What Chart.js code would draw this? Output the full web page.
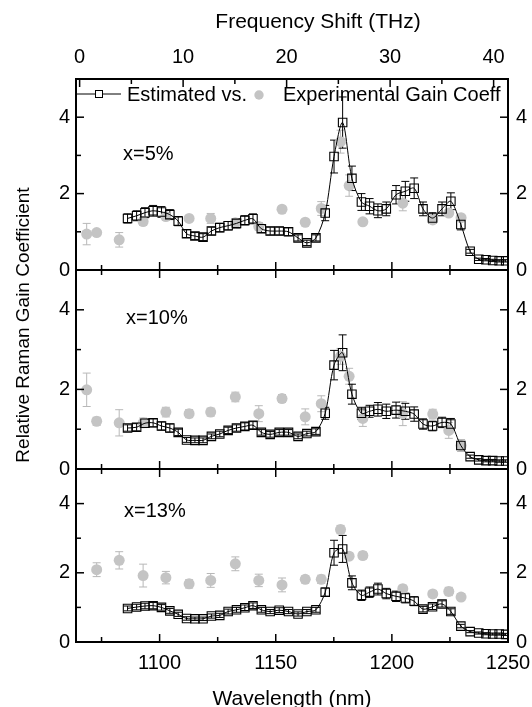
<!DOCTYPE html>
<html>
<head>
<meta charset="utf-8">
<script src="https://cdn.jsdelivr.net/npm/chart.js@4.4.0/dist/chart.umd.min.js"></script>
<style>
  html, body { margin: 0; padding: 0; background: #fff; }
  #wrap { position: relative; width: 532px; height: 707px; }
</style>
</head>
<body>
<div id="wrap"><canvas id="ramanChart" width="532" height="707"></canvas></div>
<script>
// estimated gain coefficient, sampled at these wavelengths (nm)
const estWavelength = [1086.2, 1090.1, 1093.7, 1097.2, 1100.8, 1104.4, 1108.0, 1111.6, 1115.2, 1118.7,
  1122.3, 1125.9, 1129.5, 1133.1, 1136.7, 1140.2, 1143.8, 1147.6, 1151.5, 1155.5,
  1159.6, 1163.4, 1167.3, 1171.3, 1175.1, 1178.8, 1182.8, 1186.9, 1190.4, 1194.0,
  1197.6, 1201.8, 1205.8, 1209.6, 1213.4, 1217.5, 1221.6, 1225.4, 1229.7, 1233.7,
  1237.4, 1240.5, 1243.4, 1246.2, 1249.0];

const est5 = [1.35, 1.42, 1.50, 1.55, 1.52, 1.45, 1.28, 0.95, 0.89, 0.86,
  1.02, 1.11, 1.16, 1.22, 1.30, 1.34, 1.08, 1.02, 1.02, 1.00,
  0.84, 0.71, 0.84, 1.49, 2.97, 3.86, 2.40, 1.78, 1.67, 1.55,
  1.60, 1.97, 2.06, 2.14, 1.60, 1.36, 1.60, 1.80, 1.19, 0.49,
  0.28, 0.27, 0.25, 0.24, 0.24];
const est5Err = [0.12, 0.13, 0.13, 0.14, 0.14, 0.13, 0.12, 0.10, 0.09, 0.09,
  0.10, 0.11, 0.11, 0.12, 0.12, 0.13, 0.10, 0.10, 0.10, 0.10,
  0.08, 0.07, 0.08, 0.20, 0.43, 0.67, 0.32, 0.22, 0.20, 0.18,
  0.18, 0.24, 0.26, 0.27, 0.18, 0.14, 0.18, 0.22, 0.14, 0.05,
  0.03, 0.03, 0.03, 0.03, 0.03];

const est10 = [1.03, 1.05, 1.15, 1.16, 1.08, 1.03, 0.92, 0.73, 0.72, 0.72,
  0.82, 0.88, 0.97, 1.03, 1.07, 1.10, 0.92, 0.87, 0.92, 0.92,
  0.82, 0.89, 0.94, 1.40, 2.61, 2.92, 1.88, 1.40, 1.45, 1.50,
  1.45, 1.48, 1.45, 1.38, 1.13, 1.08, 1.17, 1.13, 0.59, 0.31,
  0.23, 0.21, 0.21, 0.20, 0.20];
const est10Err = [0.08, 0.09, 0.10, 0.10, 0.10, 0.10, 0.08, 0.06, 0.06, 0.06,
  0.06, 0.07, 0.08, 0.08, 0.09, 0.09, 0.07, 0.07, 0.07, 0.07,
  0.06, 0.06, 0.07, 0.15, 0.37, 0.45, 0.25, 0.15, 0.15, 0.17,
  0.18, 0.20, 0.20, 0.18, 0.13, 0.12, 0.13, 0.14, 0.10, 0.04,
  0.03, 0.03, 0.03, 0.03, 0.03];

const est13 = [0.97, 1.01, 1.04, 1.05, 1.00, 0.90, 0.80, 0.68, 0.67, 0.67,
  0.75, 0.77, 0.88, 0.93, 0.99, 1.05, 0.93, 0.88, 0.92, 0.88,
  0.81, 0.88, 0.93, 1.44, 2.58, 2.69, 1.71, 1.35, 1.44, 1.53,
  1.40, 1.32, 1.27, 1.18, 0.95, 1.02, 1.10, 0.88, 0.46, 0.30,
  0.26, 0.24, 0.23, 0.23, 0.22];
const est13Err = [0.07, 0.08, 0.08, 0.09, 0.08, 0.07, 0.06, 0.05, 0.05, 0.05,
  0.06, 0.06, 0.07, 0.07, 0.08, 0.08, 0.07, 0.06, 0.07, 0.06,
  0.06, 0.06, 0.07, 0.12, 0.36, 0.39, 0.20, 0.15, 0.15, 0.17,
  0.15, 0.15, 0.14, 0.13, 0.08, 0.08, 0.09, 0.08, 0.05, 0.03,
  0.03, 0.03, 0.03, 0.03, 0.03];

// measured gain coefficient
const expWavelength = [1068.6, 1072.9, 1082.6, 1092.9, 1102.7, 1112.7, 1122.0, 1132.6, 1142.7, 1152.7,
  1162.7, 1169.6, 1177.9, 1181.6, 1187.5, 1204.7, 1217.6, 1224.5, 1229.8];
const exp5 = [0.94, 0.98, 0.79, 1.27, 1.40, 1.35, 1.35, 1.24, 1.14, 1.59,
  1.25, 1.61, 3.36, 2.21, 1.26, 1.75, 1.31, 1.49, 1.37];
const exp5Err = [0.28, 0.05, 0.19, 0.10, 0.10, 0.05, 0.13, 0.10, 0.10, 0.05,
  0.05, 0.18, 0.30, 0.28, 0.05, 0.20, 0.05, 0.06, 0.05];
const exp10 = [1.99, 1.20, 1.16, 1.16, 1.43, 1.39, 1.43, 1.81, 1.39, 1.77,
  1.31, 1.64, 2.83, 2.33, 1.27, 1.39, 1.38, 0.97, 0.59];
const exp10Err = [0.42, 0.10, 0.33, 0.12, 0.12, 0.10, 0.10, 0.12, 0.20, 0.10,
  0.20, 0.20, 0.20, 0.20, 0.20, 0.30, 0.12, 0.20, 0.15];
const exp13 = [null, 2.09, 2.36, 1.92, 1.86, 1.68, 1.78, 2.26, 1.78, 1.65,
  1.81, 1.81, 3.25, 2.48, 2.50, 1.54, 1.39, 1.46, 1.30];
const exp13Err = [0, 0.20, 0.25, 0.33, 0.18, 0.12, 0.20, 0.20, 0.18, 0.20,
  0.10, 0.12, 0.12, 0.10, 0.10, 0.10, 0.10, 0.12, 0.10];

const panelLabels = ['x=5%', 'x=10%', 'x=13%'];
const yTicks = [0, 2, 4];
const wavelengthTicks = [1100, 1150, 1200, 1250];
const freqTicks = [0, 10, 20, 30, 40];

const FONT = "'Liberation Sans', Arial, sans-serif";
const GREY = '#c4c4c4';
const panelAxes = ['yA', 'yB', 'yC'];

function points(xs, ys) {
  return xs.map((x, i) => ({ x: x, y: ys[i] }));
}

function estSet(values, errs, axis) {
  return {
    data: points(estWavelength, values), errors: errs, yAxisID: axis, order: 0,
    showLine: true, tension: 0.3, borderColor: '#000', borderWidth: 1,
    pointStyle: 'rect', pointRadius: 6, pointBorderWidth: 1.1,
    pointBackgroundColor: 'rgba(0,0,0,0)', pointBorderColor: '#000'
  };
}

function expSet(values, errs, axis) {
  return {
    data: points(expWavelength, values), errors: errs, yAxisID: axis, order: 1,
    showLine: false, pointStyle: 'circle', pointRadius: 5.5, pointBorderWidth: 0,
    pointBackgroundColor: GREY, borderColor: GREY
  };
}

// no thousands separators, no edge padding
const plainLabel = v => String(v);
const noPadding = s => { s.paddingLeft = 0; s.paddingRight = 0; s.paddingTop = 0; s.paddingBottom = 0; };

function yAxis(position, weight, stackWeight) {
  return {
    type: 'linear', position: position, stack: position, stackWeight: stackWeight, weight: weight,
    min: 0, max: 5,
    afterBuildTicks: s => { s.ticks = yTicks.map(v => ({ value: v })); },
    afterFit: s => { s.width = position === 'left' ? 76 : 24; noPadding(s); },
    grid: { display: false, drawTicks: false },
    border: { display: true, color: '#000', width: 2 },
    ticks: { color: '#000', font: { family: FONT, size: 20 }, padding: position === 'left' ? 6 : 8, autoSkip: false, callback: plainLabel }
  };
}

// error bars, drawn under the markers
const errorBars = {
  id: 'errorBars',
  beforeDatasetsDraw(chart) {
    const ctx = chart.ctx;
    const area = chart.chartArea;
    ctx.save();
    ctx.beginPath();
    ctx.rect(area.left, area.top, area.right - area.left, area.bottom - area.top);
    ctx.clip();
    [1, 0].forEach(order => {
      chart.data.datasets.forEach((ds, i) => {
        if (ds.order !== order) return;
        const meta = chart.getDatasetMeta(i);
        const ys = chart.scales[ds.yAxisID];
        ctx.strokeStyle = order === 0 ? '#000' : '#b8b8b8';
        ctx.lineWidth = 1;
        ds.data.forEach((p, j) => {
          const e = ds.errors[j];
          if (p.y === null || !e) return;
          const px = meta.data[j].x;
          const top = ys.getPixelForValue(p.y + e);
          const bot = ys.getPixelForValue(p.y - e);
          ctx.beginPath();
          ctx.moveTo(px, top); ctx.lineTo(px, bot);
          ctx.moveTo(px - 4, top); ctx.lineTo(px + 4, top);
          ctx.moveTo(px - 4, bot); ctx.lineTo(px + 4, bot);
          ctx.stroke();
        });
      });
    });
    ctx.restore();
  }
};

// inward tick marks, panel separators and the free text
const frame = {
  id: 'frame',
  afterDraw(chart) {
    const ctx = chart.ctx;
    const xs = chart.scales.x;
    const fs = chart.scales.x2;
    const line = (x1, y1, x2, y2) => { ctx.beginPath(); ctx.moveTo(x1, y1); ctx.lineTo(x2, y2); ctx.stroke(); };
    ctx.save();
    ctx.strokeStyle = '#000';
    panelAxes.forEach((id, i) => {
      const ys = chart.scales[id];
      ctx.lineWidth = 1.5;
      for (let v = 1075; v <= 1250; v += 25) {
        const px = xs.getPixelForValue(v);
        const len = v % 50 === 0 ? 8 : 5;
        line(px, ys.bottom, px, ys.bottom - len);
        if (i > 0) line(px, ys.top, px, ys.top + len);
      }
      for (let v = 1; v <= 4; v++) {
        const py = ys.getPixelForValue(v);
        const len = v % 2 === 0 ? 8 : 5;
        line(xs.left, py, xs.left + len, py);
        line(xs.right, py, xs.right - len, py);
      }
      if (i < panelAxes.length - 1) {
        ctx.lineWidth = 2;
        line(xs.left, ys.bottom, xs.right, ys.bottom);
      }
    });
    ctx.lineWidth = 1.5;
    for (let f = 0; f <= 40; f += 5) {
      const px = fs.getPixelForValue(f);
      line(px, fs.bottom, px, fs.bottom + (f % 10 === 0 ? 8 : 5));
    }

    ctx.fillStyle = '#000';
    ctx.textBaseline = 'alphabetic';
    ctx.font = '20px ' + FONT;
    // panel labels
    const labelPos = [[123, 160], [126, 324], [124, 517]];
    panelLabels.forEach((t, i) => ctx.fillText(t, labelPos[i][0], labelPos[i][1]));

    // legend
    ctx.lineWidth = 1;
    line(77, 94, 95, 94);
    line(103, 94, 121, 94);
    ctx.strokeRect(95.5, 90.5, 7, 7);
    ctx.fillText('Estimated vs.', 127, 101);
    ctx.fillStyle = GREY;
    ctx.beginPath(); ctx.arc(259, 95, 4.7, 0, Math.PI * 2); ctx.fill();
    ctx.fillStyle = '#000';
    ctx.fillText('Experimental Gain Coeff', 283, 101);

    // axis titles
    ctx.font = '21px ' + FONT;
    ctx.textAlign = 'center';
    ctx.fillText('Frequency Shift (THz)', 318, 28);
    ctx.translate(29, 325);
    ctx.rotate(-Math.PI / 2);
    ctx.font = '19px ' + FONT;
    ctx.fillText('Relative Raman Gain Coefficient', 0, 0);
    ctx.restore();
  }
};

const scales = {
  x: {
    type: 'linear', position: 'bottom', min: 1064, max: 1250,
    afterBuildTicks: s => { s.ticks = wavelengthTicks.map(v => ({ value: v })); },
    afterFit: s => { s.height = 65; noPadding(s); },
    grid: { display: false, drawTicks: false },
    border: { display: true, color: '#000', width: 2 },
    ticks: { color: '#000', font: { family: FONT, size: 20 }, padding: 9, autoSkip: false, maxRotation: 0, callback: plainLabel },
    title: { display: true, text: 'Wavelength (nm)', color: '#000', font: { family: FONT, size: 21, lineHeight: 1 }, padding: { top: 0, bottom: -3 } }
  },
  x2: {
    type: 'linear', position: 'top', min: -0.35, max: 41.39,
    afterBuildTicks: s => { s.ticks = freqTicks.map(v => ({ value: v })); },
    afterFit: s => { s.height = 79; noPadding(s); },
    grid: { display: false, drawTicks: false },
    border: { display: true, color: '#000', width: 2 },
    ticks: { color: '#000', font: { family: FONT, size: 20 }, padding: 10, autoSkip: false, maxRotation: 0, callback: plainLabel }
  },
  // left stack: higher weight is placed first (top); right stack: lower weight first
  yA: yAxis('left', 3, 191),
  yB: yAxis('left', 2, 199),
  yC: yAxis('left', 1, 173),
  rA: yAxis('right', 1, 191),
  rB: yAxis('right', 2, 199),
  rC: yAxis('right', 3, 173)
};

new Chart(document.getElementById('ramanChart'), {
  type: 'line',
  data: {
    datasets: [
      estSet(est5, est5Err, 'yA'),
      estSet(est10, est10Err, 'yB'),
      estSet(est13, est13Err, 'yC'),
      expSet(exp5, exp5Err, 'yA'),
      expSet(exp10, exp10Err, 'yB'),
      expSet(exp13, exp13Err, 'yC')
    ]
  },
  options: {
    responsive: false,
    animation: false,
    layout: { padding: 0, autoPadding: false },
    plugins: { legend: { display: false }, tooltip: { enabled: false } },
    scales: scales
  },
  plugins: [errorBars, frame]
});
</script>
</body>
</html>
